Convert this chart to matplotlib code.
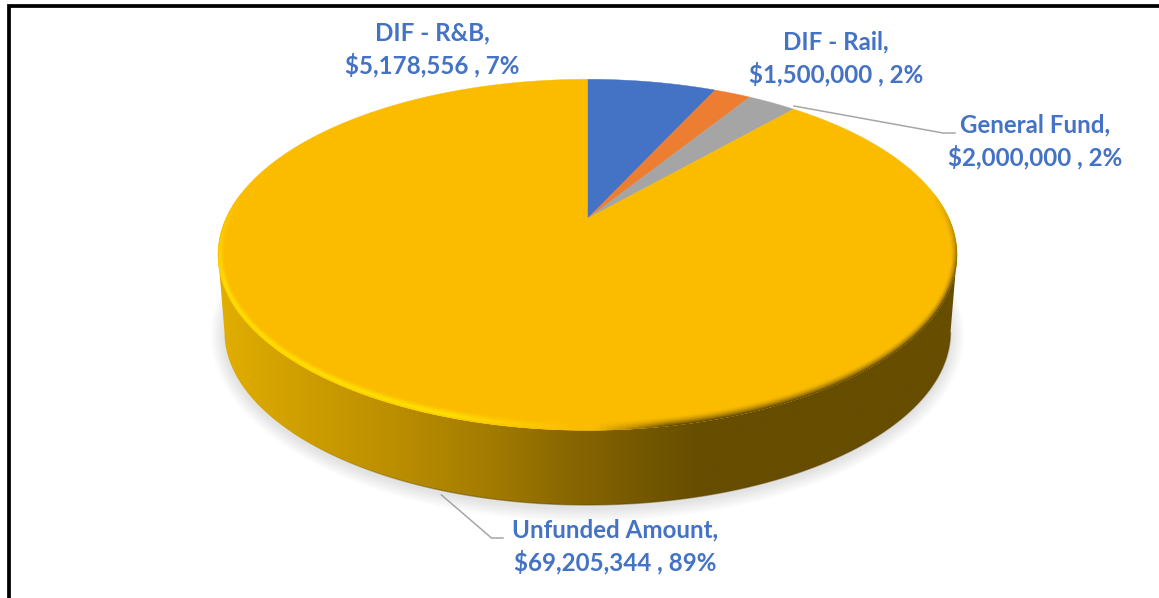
import numpy as np
import matplotlib
matplotlib.use("Agg")
import matplotlib.pyplot as plt
from matplotlib.collections import LineCollection
from matplotlib.colors import to_rgb
from matplotlib.patches import Polygon

plt.rcParams['font.family'] = ['Lato', 'DejaVu Sans']

# Data
names = ["DIF - R&B", "DIF - Rail", "General Fund", "Unfunded Amount"]
amounts = [5178556, 1500000, 2000000, 69205344]
percents = [7, 2, 2, 89]
colors = ["#4472C4", "#ED7D31", "#A5A5A5", "#FBBC00"]

W, H = 1159, 598
CX, APEX_Y = 587.5, 218.5

# perspective of the disc, everything below is in pixels of the picture
K = 0.2068
A, B = 361.5, 168.0
WIDEN = 1.04


def project(theta, r=1.0):
    # theta is clockwise from 12 o'clock
    u, v = r * np.sin(theta) * WIDEN, r * np.cos(theta)
    n = np.hypot(u, v)
    u, v = u / n * r, v / n * r
    w = 1 + K * v
    return CX + A * u / w, APEX_Y - B * v / w


def ellipse(cy, a, b, t):
    return CX + a * np.cos(t), cy - b * np.sin(t)


fig = plt.figure(figsize=(W / 100, H / 100), dpi=100)
ax = fig.add_axes([0, 0, 1, 1])
ax.set_axis_off()

TOP = (254.8, 369.5, 175.5)
LOW = (332.0, 363.0, 173.0)

# soft shadow under the disc
t = np.linspace(0, 2 * np.pi, 361)
for i in range(14, 0, -1):
    xs, ys = ellipse(LOW[0] + 3, LOW[1] + i * 1.0, LOW[2] + i * 1.0, t)
    ax.add_patch(Polygon(np.c_[xs, ys], closed=True, fc="#000000", ec="none", alpha=0.009, zorder=1))

# side wall with a left to right gradient
t_low = np.linspace(np.pi, 2 * np.pi, 241)
x1, y1 = ellipse(*TOP, t_low)
x2, y2 = ellipse(*LOW, t_low)
side = Polygon(np.r_[np.c_[x1, y1], np.c_[x2, y2][::-1]], closed=True, fc="none", ec="none", zorder=2)
ax.add_patch(side)
stops_x = [218, 320, 400, 500, 565, 640, 700, 960]
stops_c = ["#E2AE00", "#CB9B00", "#BA8D00", "#A07900", "#8A6800", "#755800", "#664D00", "#664D00"]
stops_rgb = np.array([to_rgb(c) for c in stops_c])
px = np.arange(218, 961)
grad = np.stack([np.interp(px, stops_x, stops_rgb[:, i]) for i in range(3)], axis=-1)[None, :, :]
img = ax.imshow(grad, extent=(218, 960, 510, 250), aspect="auto", zorder=2, interpolation="bilinear")
img.set_clip_path(side)

# dark line along the bottom of the wall, fades in on the left
edge_rgb = to_rgb("#5A4300")
edge_segs = [[(x2[i], y2[i]), (x2[i + 1], y2[i + 1])] for i in range(len(x2) - 1)]
edge_cols = [(*edge_rgb, 0.45 * np.clip((x2[i] - 280) / 160, 0, 1)) for i in range(len(x2) - 1)]
ax.add_collection(LineCollection(edge_segs, colors=edge_cols, linewidths=1.0, zorder=3))

# top face, one wedge per value
fracs = np.array(amounts) / np.sum(amounts)
edges = np.r_[0, np.cumsum(fracs)] * 2 * np.pi
for i in range(len(amounts)):
    th = np.linspace(edges[i], edges[i + 1], max(int(np.degrees(edges[i + 1] - edges[i])), 2) + 1)
    xs, ys = project(th)
    pts = np.r_[[[CX, APEX_Y]], np.c_[xs, ys]]
    ax.add_patch(Polygon(pts, closed=True, fc=colors[i], ec=colors[i], lw=0.3, zorder=4))

# bevel along the rim: yellow highlight on the left, dark on the right
base = np.array(to_rgb(colors[3]))
hi = np.array(to_rgb("#FFE300"))
dark = np.array(to_rgb("#5F4700"))
t_rim = np.radians(np.arange(-200, 21, 1.0))
segs, cols = [], []
n_rings = 16
for j in range(n_rings):
    d = j / (n_rings - 1)
    # first ring sits just inside the wedge outline
    xs, ys = ellipse(TOP[0], TOP[1] - 0.6 - d * 7.0, TOP[2] - 0.6 - d * 10.0, t_rim)
    for k in range(len(t_rim) - 1):
        tm = 0.5 * (t_rim[k] + t_rim[k + 1])
        cx_n, sy_n = np.cos(tm), np.sin(tm)
        fade = np.clip((0.35 - sy_n) / 0.55, 0, 1)
        if fade <= 0:
            continue
        if cx_n < 0:
            s = np.clip((-cx_n - 0.03) / 0.35, 0, 1) * fade * (1 - abs(d - 0.3) / 0.7) ** 1.4
            c = base + (hi - base) * s
        else:
            s = np.clip((cx_n - 0.02) / 0.2, 0, 1) * fade * (1 - d) ** 1.8
            c = base + (dark - base) * s
        segs.append([(xs[k], ys[k]), (xs[k + 1], ys[k + 1])])
        cols.append(c)
ax.add_collection(LineCollection(segs, colors=cols, linewidths=1.1, zorder=5, capstyle="round"))

# frame only shows on the top and left
ax.plot([8.5, 8.5, W + 5], [H + 5, 6, 6], color="#000000", lw=2.7, solid_joinstyle="miter", zorder=8)

# leader lines
ax.plot([794, 943, 955], [106, 133, 133], color="#A6A6A6", lw=1.1, zorder=6)
ax.plot([441.5, 491.5, 503], [495, 538, 538], color="#A6A6A6", lw=1.1, zorder=6)

# labels
label_pos = [(432, 49), (836, 58), (1035, 141.5), (615, 546)]
for name, amount, pct, (lx, ly) in zip(names, amounts, percents, label_pos):
    ax.text(lx, ly, f"{name},\n\\${amount:,} , {pct}%", color="#4472C4", fontsize=17.4, fontweight="bold",
            ha="center", va="center", linespacing=1.41, zorder=7)

ax.set_xlim(0, W)
ax.set_ylim(H, 0)
fig.savefig("out.png", dpi=100, facecolor="white")
